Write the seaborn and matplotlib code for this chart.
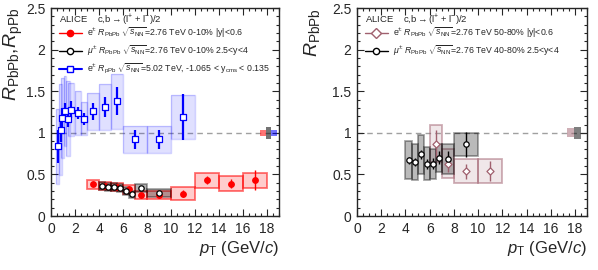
import matplotlib
matplotlib.use("Agg")
import matplotlib.pyplot as plt
from matplotlib.patches import Rectangle
from matplotlib.lines import Line2D
from matplotlib.ticker import MultipleLocator
import seaborn as sns

# e+- R_pPb, 5.02 TeV
ppb_pt = [0.55, 0.8, 0.95, 1.15, 1.4, 1.7, 2.25, 2.75, 3.5, 4.5, 5.5, 7, 9, 11]
ppb_r = [0.84, 1.04, 1.18, 1.26, 1.17, 1.28, 1.24, 1.17, 1.26, 1.31, 1.38, 0.92, 0.92, 1.19]
ppb_stat = [0.2, 0.15, 0.12, 0.1, 0.1, 0.1, 0.07, 0.07, 0.1, 0.12, 0.17, 0.12, 0.12, 0.28]
ppb_sys = [0.45, 0.55, 0.48, 0.42, 0.45, 0.32, 0.26, 0.2, 0.22, 0.28, 0.33, 0.16, 0.16, 0.27]
ppb_hw = [0.1, 0.15, 0.1, 0.1, 0.15, 0.25, 0.25, 0.25, 0.5, 0.5, 0.5, 1, 1, 1]

# e+- R_PbPb 0-10%
e010_pt = [3.5, 4.5, 5.5, 6.5, 7.5, 9, 11, 13, 15, 17]
e010_r = [0.38, 0.36, 0.35, 0.32, 0.25, 0.25, 0.27, 0.43, 0.39, 0.43]
e010_stat = [0.02, 0.02, 0.02, 0.03, 0.03, 0.03, 0.04, 0.05, 0.05, 0.12]
e010_sys = [0.05, 0.05, 0.05, 0.05, 0.05, 0.05, 0.08, 0.09, 0.085, 0.09]
e010_hw = [0.5, 0.5, 0.5, 0.5, 0.5, 1, 1, 1, 1, 1]

# mu+- R_PbPb 0-10%
mu010_pt = [4.25, 4.75, 5.25, 5.75, 6.25, 6.75, 7.5, 9]
mu010_r = [0.36, 0.35, 0.35, 0.34, 0.30, 0.26, 0.34, 0.28]
mu010_stat = [0.01, 0.01, 0.01, 0.01, 0.01, 0.015, 0.02, 0.02]
mu010_sys = [0.05, 0.05, 0.05, 0.05, 0.045, 0.04, 0.05, 0.05]
mu010_hw = [0.25, 0.25, 0.25, 0.25, 0.25, 0.25, 0.5, 1]

# e+- R_PbPb 50-80%
e5080_pt = [6.5, 7.5, 9, 11]
e5080_r = [0.87, 0.63, 0.54, 0.54]
e5080_stat = [0.17, 0.1, 0.09, 0.12]
e5080_sys = [0.22, 0.17, 0.14, 0.14]
e5080_hw = [0.5, 0.5, 1, 1]

# mu+- R_PbPb 40-80%
mu4080_pt = [4.25, 4.75, 5.25, 5.75, 6.25, 6.75, 7.5, 9]
mu4080_r = [0.67, 0.65, 0.74, 0.63, 0.63, 0.70, 0.69, 0.86]
mu4080_stat = [0.04, 0.05, 0.05, 0.06, 0.07, 0.08, 0.09, 0.15]
mu4080_sys = [0.23, 0.22, 0.23, 0.2, 0.18, 0.17, 0.18, 0.14]
mu4080_hw = [0.25, 0.25, 0.25, 0.25, 0.25, 0.25, 0.5, 1]

# global normalisation uncertainties (around 1)
norm_left = [0.04, 0.07, 0.04]
norm_right = [0.055, 0.07]

RED = "#ff0000"
BLUE = "#0000ff"
BLACK = "#000000"
PINK = "#a0606e"

sns.set_style("ticks")
plt.rcParams["font.family"] = ["Liberation Sans", "DejaVu Sans"]
plt.rcParams["mathtext.fontset"] = "custom"
plt.rcParams["mathtext.rm"] = "Liberation Sans"
plt.rcParams["mathtext.it"] = "Liberation Sans:italic"
plt.rcParams["mathtext.bf"] = "Liberation Sans:bold"


def boxes(ax, x, y, hw, sys, color, fa, ea, lw=1.0):
    # systematic uncertainty boxes: filled body + outline
    for xi, yi, w, s in zip(x, y, hw, sys):
        ax.add_patch(Rectangle((xi - w, yi - s), 2 * w, 2 * s,
                               facecolor=matplotlib.colors.to_rgba(color, fa),
                               edgecolor="none", zorder=1))
        ax.add_patch(Rectangle((xi - w, yi - s), 2 * w, 2 * s,
                               facecolor="none",
                               edgecolor=matplotlib.colors.to_rgba(color, ea),
                               lw=lw, zorder=1))


def points(ax, x, y, stat, color, marker, face, ms=16, elw=1.0):
    ax.errorbar(x, y, yerr=stat, fmt="none", ecolor=color, elinewidth=elw,
                capsize=0, zorder=3)
    sns.scatterplot(x=x, y=y, ax=ax, marker=marker, s=ms, color=face,
                    edgecolor=color, linewidth=0.9, zorder=4, legend=False)


def style(ax, ylabel, ylab_x):
    ax.set_xlim(0, 19)
    ax.set_ylim(0, 2.5)
    ax.axhline(1, color="#a0a0a0", lw=1, ls=(0, (4, 3)), zorder=0)
    ax.xaxis.set_major_locator(MultipleLocator(2))
    ax.xaxis.set_minor_locator(MultipleLocator(0.5))
    ax.yaxis.set_major_locator(MultipleLocator(0.5))
    ax.yaxis.set_minor_locator(MultipleLocator(0.1))
    ax.tick_params(which="both", direction="in", top=True, right=True,
                   labelsize=10, width=0.8, pad=4)
    ax.tick_params(which="major", length=5)
    ax.tick_params(which="minor", length=2.5)
    for sp in ax.spines.values():
        sp.set_linewidth(1.0)
    ax.set_yticks([0, 0.5, 1, 1.5, 2, 2.5])
    ax.set_yticklabels(["0", "0.5", "1", "1.5", "2", "2.5"])
    ax.set_xlabel(r"$p_{\rm T}$ (GeV/$c$)", fontsize=12, loc="right")
    ax.xaxis.set_label_coords(1.0, -0.11)
    ax.set_ylabel(ylabel, fontsize=14, loc="top")
    ax.yaxis.set_label_coords(ylab_x, 1.0)
    ax.text(0.035, 0.945, r"ALICE    c,b$\rightarrow$(l$^{+}$ + l$^{-}$)/2",
            transform=ax.transAxes, fontsize=6.8, va="center")


fig = plt.figure(figsize=(5.98, 2.70), dpi=100)
ax1 = fig.add_axes([0.0853, 0.2, 0.3813, 0.77])
ax2 = fig.add_axes([0.597, 0.2, 0.385, 0.77])

# left panel
boxes(ax1, ppb_pt, ppb_r, ppb_hw, ppb_sys, BLUE, 0.12, 0.18)
boxes(ax1, e010_pt, e010_r, e010_hw, e010_sys, RED, 0.2, 0.55, lw=1.3)
boxes(ax1, mu010_pt, mu010_r, mu010_hw, mu010_sys, BLACK, 0.3, 0.35, lw=1.3)
points(ax1, ppb_pt, ppb_r, ppb_stat, BLUE, "s", "white", ms=14, elw=1.6)
points(ax1, e010_pt, e010_r, e010_stat, RED, "o", RED, ms=16)
points(ax1, mu010_pt, mu010_r, mu010_stat, BLACK, "o", "white", ms=15)

for i, (err, c) in enumerate(zip(norm_left, [RED, BLACK, BLUE])):
    ax1.add_patch(Rectangle((17.45 + 0.45 * i, 1 - err), 0.45, 2 * err,
                            facecolor=matplotlib.colors.to_rgba(c, 0.55),
                            edgecolor="none", zorder=2))

style(ax1, r"$R_{\rm PbPb}$,$R_{\rm pPb}$", -0.115)

h1 = [
    Line2D([], [], color=RED, marker="o", ms=4.5, mfc=RED, lw=1),
    Line2D([], [], color=BLACK, marker="o", ms=4.5, mfc="white", lw=1),
    Line2D([], [], color=BLUE, marker="s", ms=4.5, mfc="white", lw=1.5),
]
l1 = [
    r"e$^{\pm}$ $R_{\rm PbPb}$ $\sqrt{s_{\rm NN}}$=2.76 TeV 0-10% |y|<0.6",
    r"$\mu^{\pm}$ $R_{\rm PbPb}$ $\sqrt{s_{\rm NN}}$=2.76 TeV 0-10% 2.5<y<4",
    r"e$^{\pm}$ $R_{\rm pPb}$ $\sqrt{s_{\rm NN}}$=5.02 TeV, -1.065 < y$_{\rm cms}$ < 0.135",
]
ax1.legend(h1, l1, loc="upper left", bbox_to_anchor=(0.02, 0.93),
           frameon=False, fontsize=6.3, handlelength=2.6, labelspacing=0.45,
           borderaxespad=0, handletextpad=0.6)

# right panel
boxes(ax2, e5080_pt, e5080_r, e5080_hw, e5080_sys, PINK, 0.15, 0.5, lw=1.3)
boxes(ax2, mu4080_pt, mu4080_r, mu4080_hw, mu4080_sys, BLACK, 0.27, 0.35, lw=1.3)
points(ax2, e5080_pt, e5080_r, e5080_stat, PINK, "D", "white", ms=13)
points(ax2, mu4080_pt, mu4080_r, mu4080_stat, BLACK, "o", "white", ms=15)

for i, (err, c) in enumerate(zip(norm_right, [PINK, BLACK])):
    ax2.add_patch(Rectangle((17.35 + 0.55 * i, 1 - err), 0.55, 2 * err,
                            facecolor=matplotlib.colors.to_rgba(c, 0.5),
                            edgecolor="none", zorder=2))

style(ax2, r"$R_{\rm PbPb}$", -0.15)

h2 = [
    Line2D([], [], color=PINK, marker="D", ms=5, mfc="white", lw=1),
    Line2D([], [], color=BLACK, marker="o", ms=4.5, mfc="white", lw=1),
]
l2 = [
    r"e$^{\pm}$ $R_{\rm PbPb}$ $\sqrt{s_{\rm NN}}$=2.76 TeV 50-80% |y|<0.6",
    r"$\mu^{\pm}$ $R_{\rm PbPb}$ $\sqrt{s_{\rm NN}}$=2.76 TeV 40-80% 2.5<y<4",
]
ax2.legend(h2, l2, loc="upper left", bbox_to_anchor=(0.02, 0.93),
           frameon=False, fontsize=6.3, handlelength=2.6, labelspacing=0.45,
           borderaxespad=0, handletextpad=0.6)

fig.savefig("out.png", dpi=100)
